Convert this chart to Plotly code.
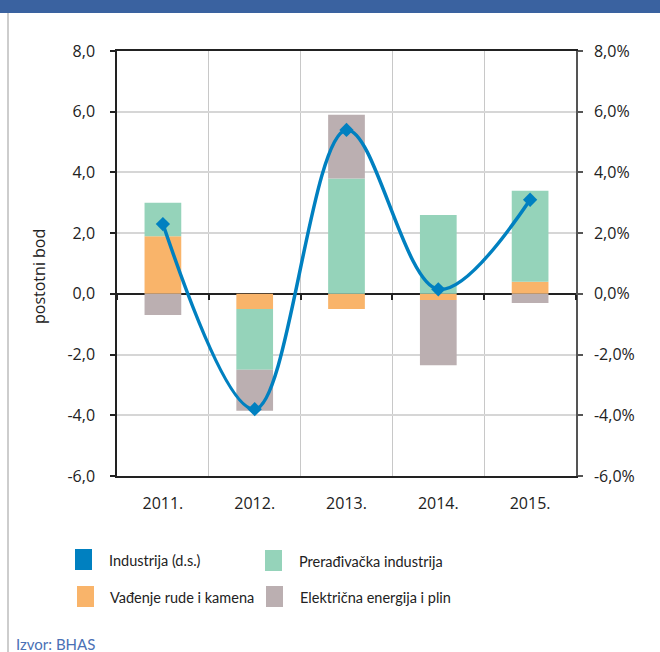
import plotly.graph_objects as go

# ---- data ----
years = ["2011.", "2012.", "2013.", "2014.", "2015."]
vadenje = [1.9, -0.5, -0.5, -0.2, 0.4]            # Vađenje rude i kamena
preradjivacka = [1.1, -2.0, 3.8, 2.6, 3.0]        # Prerađivačka industrija
elektricna = [-0.7, -1.35, 2.1, -2.15, -0.3]      # Električna energija i plin
industrija = [2.3, -3.8, 5.4, 0.15, 3.1]          # Industrija (d.s.)

left_ticks = [-6, -4, -2, 0, 2, 4, 6, 8]
left_ticktext = ["-6,0", "-4,0", "-2,0", "0,0", "2,0", "4,0", "6,0", "8,0"]
right_ticktext = ["-6,0%", "-4,0%", "-2,0%", "0,0%", "2,0%", "4,0%", "6,0%", "8,0%"]

legend_names = ["Industrija (d.s.)", "Prerađivačka industrija",
                "Vađenje rude i kamena", "Električna energija i plin"]

C_BLUE = "#0080C0"
C_GREEN = "#95D3BA"
C_ORANGE = "#F9B46A"
C_GRAY = "#BBAFB1"

W, H = 660, 652
L, R, T, B = 117, 84, 51, 176
PW, PH = W - L - R, H - T - B

def px(x):
    return (x - L) / PW

def py(y):
    return (H - B - y) / PH

FONT = "Open Sans"
LFONT = "Lato"

fig = go.Figure()
fig.add_trace(go.Bar(x=years, y=vadenje, marker_color=C_ORANGE, width=0.4,
                     marker_line_width=0, name=legend_names[2]))
fig.add_trace(go.Bar(x=years, y=preradjivacka, marker_color=C_GREEN, width=0.4,
                     marker_line_width=0, name=legend_names[1]))
fig.add_trace(go.Bar(x=years, y=elektricna, marker_color=C_GRAY, width=0.4,
                     marker_line_width=0, name=legend_names[3]))
fig.add_trace(go.Scatter(x=years, y=industrija, yaxis="y2", mode="lines+markers",
                         line=dict(color=C_BLUE, width=3.5, shape="spline", smoothing=1),
                         marker=dict(symbol="diamond", size=11, color=C_BLUE),
                         name=legend_names[0]))
# invisible helper trace for the tick axis on the zero line
fig.add_trace(go.Scatter(x=[-0.5, 4.5], y=[0, 0], xaxis="x2", mode="lines",
                         line=dict(width=0), hoverinfo="skip", showlegend=False))

fig.update_layout(
    width=W, height=H,
    margin=dict(l=L, r=R, t=T, b=B),
    paper_bgcolor="white", plot_bgcolor="white",
    barmode="relative",
    showlegend=False,
    font=dict(family=FONT, size=16, color="#222"),
    xaxis=dict(
        type="category", tickson="boundaries", showgrid=True,
        gridcolor="#C8C8C8", gridwidth=1,
        showline=True, linecolor="#222", linewidth=2, mirror=True,
        ticks="", ticklabelstandoff=12,
        tickfont=dict(family=FONT, size=16, color="#222"),
    ),
    xaxis2=dict(
        overlaying="x", anchor="free", position=6 / 14,
        range=[-0.5, 4.5], tickvals=[-0.5, 0.5, 1.5, 2.5, 3.5, 4.5],
        ticks="outside", ticklen=5, tickcolor="#222", tickwidth=1.5,
        showticklabels=False, showgrid=False, zeroline=False, showline=False,
    ),
    yaxis=dict(
        range=[-6, 8], tickvals=left_ticks, ticktext=left_ticktext,
        showgrid=True, gridcolor="#D6D6D6", gridwidth=1.5,
        zeroline=True, zerolinecolor="#222", zerolinewidth=1.5,
        showline=True, linecolor="#222", linewidth=1.5,
        ticks="outside", ticklen=5, tickcolor="#222", tickwidth=1.5,
        ticklabelstandoff=12,
        tickfont=dict(family=FONT, size=16, color="#222"),
    ),
    yaxis2=dict(
        overlaying="y", side="right", range=[-6, 8],
        tickvals=left_ticks, ticktext=right_ticktext,
        showgrid=False, zeroline=False,
        showline=True, linecolor="#555", linewidth=1.5,
        ticks="outside", ticklen=5, tickcolor="#555", tickwidth=1.5,
        ticklabelstandoff=8,
        tickfont=dict(family=FONT, size=16, color="#222"),
    ),
)

shapes = []
# header band
shapes.append(dict(type="rect", xref="paper", yref="paper",
                   x0=px(0), x1=px(W), y0=py(13), y1=py(0),
                   fillcolor="#3A62A0", line_width=0, layer="above"))
# left frame line
shapes.append(dict(type="line", xref="paper", yref="paper",
                   x0=px(8), x1=px(8), y0=py(13), y1=py(H),
                   line=dict(color="#BDBDBD", width=1.5)))
# legend swatches
sw = [(75, 549, C_BLUE), (265, 550, C_GREEN), (77, 586, C_ORANGE), (266, 586, C_GRAY)]
for x0, y0, c in sw:
    shapes.append(dict(type="rect", xref="paper", yref="paper",
                       x0=px(x0), x1=px(x0 + 17), y0=py(y0 + 21), y1=py(y0),
                       fillcolor=c, line_width=0))
fig.update_layout(shapes=shapes)

ann = []
ann.append(dict(text="postotni bod", xref="paper", yref="paper",
                x=px(39), y=py(277), textangle=-90, showarrow=False,
                xanchor="center", yanchor="middle",
                font=dict(family=FONT, size=16, color="#222")))
leg_pos = [(107, 560), (297, 561), (108, 597), (298, 597)]
for (x0, yc), name in zip(leg_pos, legend_names):
    ann.append(dict(text=name, xref="paper", yref="paper", x=px(x0), y=py(yc),
                    xanchor="left", yanchor="middle", showarrow=False,
                    font=dict(family=LFONT, size=14.5, color="#222")))
ann.append(dict(text="Izvor: BHAS", xref="paper", yref="paper", x=px(14), y=py(644),
                xanchor="left", yanchor="middle", showarrow=False,
                font=dict(family=LFONT, size=15, color="#4A70B5")))
fig.update_layout(annotations=ann)

fig.write_html("out.html", config={"displayModeBar": False},
               post_script="document.body.style.margin='0';document.body.style.overflow='hidden';")
